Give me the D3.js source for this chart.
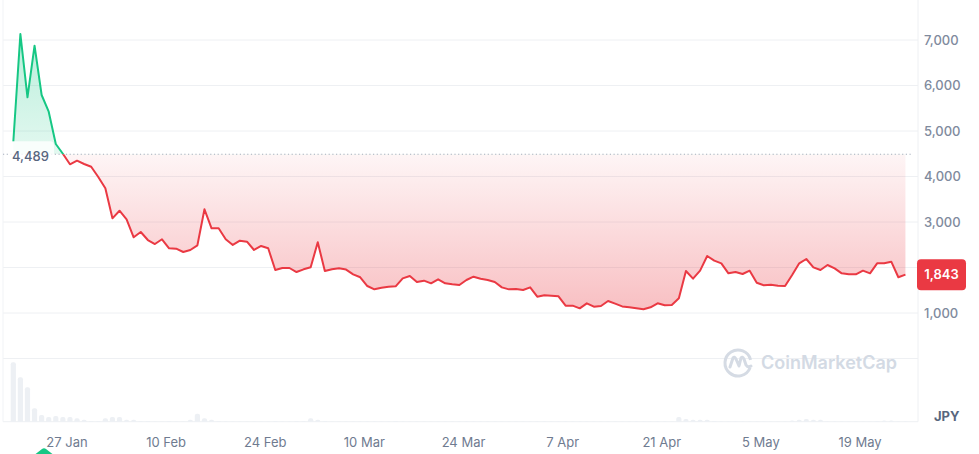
<!DOCTYPE html>
<html><head><meta charset="utf-8">
<script src="https://cdn.jsdelivr.net/npm/d3@7"></script>
<style>
body{margin:0;background:#fff;}
svg{display:block;font-family:Inter,"Noto Sans",sans-serif;}
</style>
</head><body>
<svg id="chart" width="979" height="454"></svg>
<script>
// ---------- DATA ----------
const startDate = "2025-01-19T10:00";   // first daily point
const prices = [
 4765, 7132, 5741, 6875, 5791, 5424, 4714, 4500, 4268, 4347,
 4275, 4215, 3990, 3741, 3081, 3248, 3059, 2664, 2780, 2604,
 2516, 2620, 2422, 2413, 2341, 2385, 2488, 3279, 2862, 2862,
 2620, 2495, 2589, 2568, 2385, 2473, 2422, 1945, 1989, 1989,
 1901, 1960, 2004, 2554, 1923, 1960, 1982, 1955, 1850, 1785,
 1593, 1520, 1557, 1579, 1586, 1762, 1813, 1681, 1711, 1652,
 1740, 1652, 1630, 1615, 1725, 1798, 1754, 1725, 1681, 1564,
 1520, 1527, 1505, 1564, 1359, 1389, 1381, 1367, 1161, 1161,
 1103, 1213, 1139, 1154, 1264, 1205, 1145, 1125, 1103, 1081,
 1125, 1213, 1169, 1176, 1323, 1923, 1754, 1930, 2253, 2150,
 2092, 1872, 1901, 1857, 1930, 1666, 1608, 1622, 1600, 1593,
 1835, 2092, 2187, 2004, 1945, 2055, 1982, 1872, 1850, 1850,
 1930, 1872, 2092, 2092, 2128, 1785, 1843
];
const volumes = [
 59.4, 44.4, 34.4, 13.4, 6.7, 4.7, 5.7, 4.7, 4.7, 3.4,
 2.0, 0.7, 0.7, 3.4, 4.7, 4.7, 2.0, 2.0, 0.7, 0.7,
 0.2, 0.2, 0.7, 0.2, 0.2, 2.0, 8.0, 3.4, 2.0, 0.7,
 0.2, 0.2, 0.2, 0.2, 0.2, 0.2, 0.2, 0.7, 0.2, 0.2,
 0.7, 0.7, 3.4, 2.0, 0.7, 0.2, 0.2, 0.2, 0.2, 0.2,
 0.2, 0.2, 0.2, 0.2, 0.7, 0.2, 0.2, 0.2, 0.2, 0.2,
 0.2, 0.2, 0.2, 0.2, 0.2, 0.2, 0.2, 0.2, 0.2, 0.2,
 0.2, 0.2, 0.2, 0.2, 0.2, 0.2, 0.2, 0.2, 0.2, 0.2,
 0.2, 0.2, 0.2, 0.2, 0.2, 0.2, 0.2, 0.2, 0.2, 0.2,
 0.2, 0.2, 0.2, 0.2, 4.7, 2.8, 2.0, 2.0, 2.0, 0.7,
 0.2, 0.2, 0.2, 0.2, 0.2, 0.2, 0.2, 0.2, 0.2, 0.2,
 1.3, 2.0, 2.8, 2.0, 2.0, 0.2, 0.2, 0.2, 0.2, 0.2,
 0.2, 0.2, 0.7, 1.3, 1.3, 0.2, 0.2
];
const openPrice = 4489;
const lastPrice = 1843;
const yTickValues = [1000, 3000, 4000, 5000, 6000, 7000];
const gridValues = [0, 1000, 2000, 3000, 4000, 5000, 6000, 7000];
const xTickDates = ["2025-01-27","2025-02-10","2025-02-24","2025-03-10","2025-03-24",
                    "2025-04-07","2025-04-21","2025-05-05","2025-05-19"];
const currency = "JPY";
const watermark = "CoinMarketCap";

// ---------- SETUP ----------
const svg = d3.select("#chart");
const parseDay = d3.timeParse("%Y-%m-%d");
const t0 = d3.timeParse("%Y-%m-%dT%H:%M")(startDate);
const data = prices.map((p, i) => ({ date: d3.timeDay.offset(t0, i), price: p, vol: volumes[i] }));

const left = 3, right = 918;
const x = d3.scaleTime().domain([parseDay("2025-01-27"), parseDay("2025-05-19")]).range([67, 860]);
const y = d3.scaleLinear().domain([0, 7000]).range([358.5, 40]);
const volBottom = 421.7;
const yv = d3.scaleLinear().domain([0, d3.max(volumes)]).range([volBottom, 362.3]);

const GREEN = "#16c784", RED = "#ea3943";
const defs = svg.append("defs");
const gG = defs.append("linearGradient").attr("id","gGreen").attr("gradientUnits","userSpaceOnUse")
  .attr("x1",0).attr("x2",0).attr("y1",y(d3.max(prices))).attr("y2",y(openPrice));
gG.append("stop").attr("offset",0).attr("stop-color",GREEN).attr("stop-opacity",0.3);
gG.append("stop").attr("offset",1).attr("stop-color",GREEN).attr("stop-opacity",0.12);
const gR = defs.append("linearGradient").attr("id","gRed").attr("gradientUnits","userSpaceOnUse")
  .attr("x1",0).attr("x2",0).attr("y1",y(openPrice)).attr("y2",y(d3.min(prices)));
gR.append("stop").attr("offset",0).attr("stop-color",RED).attr("stop-opacity",0.05);
gR.append("stop").attr("offset",1).attr("stop-color",RED).attr("stop-opacity",0.32);

defs.append("clipPath").attr("id","above").append("rect")
  .attr("x",0).attr("y",0).attr("width",979).attr("height",y(openPrice));
defs.append("clipPath").attr("id","below").append("rect")
  .attr("x",0).attr("y",y(openPrice)).attr("width",979).attr("height",454-y(openPrice));
defs.append("clipPath").attr("id","volclip").append("rect")
  .attr("x",0).attr("y",0).attr("width",979).attr("height",volBottom);

// ---------- GRID & FRAME ----------
svg.append("g").selectAll("line").data(gridValues).join("line")
  .attr("x1",left).attr("x2",right).attr("y1",d=>y(d)).attr("y2",d=>y(d))
  .attr("stroke","#eef0f3").attr("stroke-width",1);
svg.append("line").attr("x1",left).attr("x2",right).attr("y1",volBottom).attr("y2",volBottom)
  .attr("stroke","#eef0f3");
svg.append("line").attr("x1",left).attr("x2",left).attr("y1",0).attr("y2",volBottom)
  .attr("stroke","#f1f3f6");
svg.append("line").attr("x1",right).attr("x2",right).attr("y1",0).attr("y2",volBottom)
  .attr("stroke","#eef0f3");

// ---------- VOLUME ----------
svg.append("g").attr("clip-path","url(#volclip)").selectAll("rect").data(data).join("rect")
  .attr("x",d=>x(d.date)-2.6).attr("width",5.2)
  .attr("y",d=>yv(d.vol)).attr("height",d=>volBottom - yv(d.vol) + 3)
  .attr("rx",2).attr("fill","#edf0f4");

// ---------- WATERMARK ----------
const wm = svg.append("g").attr("fill","none").attr("stroke","#d5dbe4");
const cx = 738, cy = 363, r = 13;
const arc = d3.arc()({innerRadius:r, outerRadius:r, startAngle: Math.PI*0.62, endAngle: Math.PI*2.42});
wm.append("path").attr("transform",`translate(${cx},${cy})`).attr("d",arc).attr("stroke-width",3).attr("stroke-linecap","round");
wm.append("path").attr("d",`M${cx-8},${cy+4} L${cx-5},${cy-5} Q${cx-4},${cy-7} ${cx-2},${cy-4} L${cx+1},${cy+3} L${cx+3},${cy-5} Q${cx+4},${cy-7} ${cx+6},${cy-4} L${cx+8},${cy+2} Q${cx+10},${cy+5} ${cx+13},${cy+3}`)
  .attr("stroke-width",3).attr("stroke-linecap","round").attr("stroke-linejoin","round");
svg.append("text").attr("x",761).attr("y",cy).attr("dy","0.36em")
  .attr("font-size",18).attr("font-weight",600).attr("fill","#d3dae4").text(watermark);

// ---------- AREAS ----------
const area = d3.area().x(d=>x(d.date)).y0(y(openPrice)).y1(d=>y(d.price));
svg.append("path").datum(data).attr("d",area).attr("fill","url(#gGreen)").attr("clip-path","url(#above)");
svg.append("path").datum(data).attr("d",area).attr("fill","url(#gRed)").attr("clip-path","url(#below)");

// baseline
svg.append("line").attr("x1",left).attr("x2",913).attr("y1",y(openPrice)).attr("y2",y(openPrice))
  .attr("stroke","#a6afbd").attr("stroke-width",1.2).attr("stroke-dasharray","1.2,2.5");

// ---------- LINE ----------
const line = d3.line().x(d=>x(d.date)).y(d=>y(d.price));
svg.append("path").datum(data).attr("d",line).attr("fill","none").attr("stroke",GREEN)
  .attr("stroke-width",2).attr("stroke-linejoin","round").attr("clip-path","url(#above)");
svg.append("path").datum(data).attr("d",line).attr("fill","none").attr("stroke",RED)
  .attr("stroke-width",2).attr("stroke-linejoin","round").attr("clip-path","url(#below)");

// open-price label
const fmt = d3.format(",");
svg.append("rect").attr("x",8).attr("y",y(openPrice)-13).attr("width",46).attr("height",25)
  .attr("rx",4).attr("fill","#ffffff").attr("fill-opacity",0.8);
svg.append("text").attr("x",12).attr("y",y(openPrice)+2).attr("dy","0.36em")
  .attr("font-size",13).attr("font-weight",500).attr("fill","#58667e").text(fmt(openPrice));

// ---------- Y AXIS ----------
svg.append("g").selectAll("text").data(yTickValues).join("text")
  .attr("x",924).attr("y",d=>y(d)).attr("dy","0.36em")
  .attr("font-size",13).attr("font-weight",500).attr("fill","#808a9d").text(d=>fmt(d));

// last price badge
svg.append("rect").attr("x",917).attr("y",y(lastPrice)-15.5).attr("width",49).attr("height",31)
  .attr("rx",4).attr("fill",RED);
svg.append("text").attr("x",941.5).attr("y",y(lastPrice)).attr("dy","0.36em").attr("text-anchor","middle")
  .attr("font-size",13).attr("font-weight",600).attr("fill","#fff").text(fmt(lastPrice));

svg.append("text").attr("x",934).attr("y",416).attr("dy","0.36em")
  .attr("font-size",13).attr("font-weight",700).attr("fill","#58667e").text(currency);

// ---------- X AXIS ----------
const xfmt = d3.timeFormat("%-d %b");
svg.append("g").selectAll("text").data(xTickDates.map(parseDay)).join("text")
  .attr("x",d=>x(d)).attr("y",442).attr("dy","0.36em").attr("text-anchor","middle")
  .attr("font-size",13).attr("fill","#6f7b90").text(d=>xfmt(d));

// event marker
svg.append("path").attr("d","M33,456 L42,449 Q44,447.5 46,449 L55,456 Z").attr("fill",GREEN);
</script>
</body></html>
